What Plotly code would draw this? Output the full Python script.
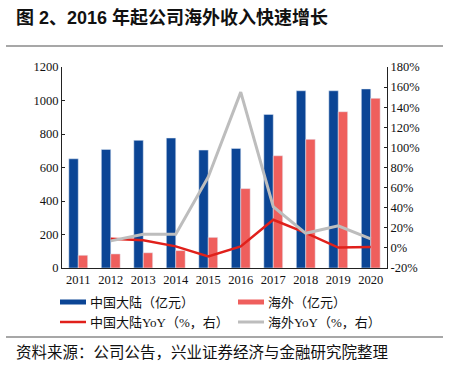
import plotly.graph_objects as go

years = ["2011", "2012", "2013", "2014", "2015", "2016", "2017", "2018", "2019", "2020"]
mainland = [652, 708, 762, 776, 704, 714, 917, 1058, 1058, 1069]
overseas = [76, 84, 91, 104, 183, 474, 670, 768, 933, 1013]
mainland_yoy = [None, 9, 7.6, 1.5, -8.6, 1.4, 28, 15, 0.3, 1]
overseas_yoy = [None, 7, 13.5, 13.5, 70.6, 155, 41, 14.5, 22, 9]

left_ticks = [0, 200, 400, 600, 800, 1000, 1200]
right_ticks = [-20, 0, 20, 40, 60, 80, 100, 120, 140, 160, 180]

names = ["中国大陆（亿元）", "海外（亿元）", "中国大陆YoY（%，右）", "海外YoY（%，右）"]
C_BLUE = "#0B4595"
C_SALMON = "#EF5F5D"
C_RED = "#E0201B"
C_GRAY = "#BDBDBD"

W, H = 474, 366
ML, MR, MT, MB = 62, 87, 67, 98

fig = go.Figure()
fig.add_trace(go.Bar(x=years, y=mainland, name=names[0], marker_color=C_BLUE, showlegend=False))
fig.add_trace(go.Bar(x=years, y=overseas, name=names[1], marker_color=C_SALMON, showlegend=False))
fig.add_trace(go.Scatter(x=years, y=mainland_yoy, name=names[2], mode="lines", yaxis="y2",
                         line=dict(color=C_RED, width=2.5), showlegend=False))
fig.add_trace(go.Scatter(x=years, y=overseas_yoy, name=names[3], mode="lines", yaxis="y2",
                         line=dict(color=C_GRAY, width=3), showlegend=False))

tickfont = dict(family="Liberation Serif, Times New Roman, serif", size=12.5, color="#111")

fig.update_layout(
    width=W, height=H,
    margin=dict(l=ML, r=MR, t=MT, b=MB),
    paper_bgcolor="white", plot_bgcolor="white",
    barmode="group", bargap=0.42, bargroupgap=0,
    xaxis=dict(showline=True, linecolor="#222", linewidth=1, ticks="", tickfont=tickfont,
               showgrid=False, zeroline=False),
    yaxis=dict(range=[0, 1200], tickvals=left_ticks, showline=True, linecolor="#222", linewidth=1,
               ticks="inside", ticklen=3, tickcolor="#222", tickfont=tickfont, showgrid=False,
               zeroline=False),
    yaxis2=dict(range=[-20, 180], tickvals=right_ticks, ticktext=[f"{v}%" for v in right_ticks],
                overlaying="y", side="right", showline=True, linecolor="#222", linewidth=1,
                ticks="inside", ticklen=3, tickcolor="#222", tickfont=tickfont, showgrid=False,
                zeroline=False),
    showlegend=False,
)

def px_x(px):
    return (px - ML) / (W - ML - MR)

def px_y(py):
    return (H - MB - py) / (H - MT - MB)

shapes = []
annotations = []
cjk = "Noto Sans CJK SC, sans-serif"

# title
annotations.append(dict(text="<b>图 2、2016 年起公司海外收入快速增长</b>", xref="paper", yref="paper",
                        x=px_x(14), y=px_y(17), xanchor="left", yanchor="middle", showarrow=False,
                        font=dict(family="Liberation Sans, Noto Sans CJK SC, sans-serif", size=18, color="#111")))
# separator lines
for yy in (46, 337):
    shapes.append(dict(type="line", xref="paper", yref="paper", x0=px_x(6), x1=px_x(443),
                       y0=px_y(yy), y1=px_y(yy), line=dict(color="#8a8a8a", width=1.5)))
# source
annotations.append(dict(text="资料来源：公司公告，兴业证券经济与金融研究院整理", xref="paper", yref="paper",
                        x=px_x(14), y=px_y(351), xanchor="left", yanchor="middle", showarrow=False,
                        font=dict(family=cjk, size=15.5, color="#111")))

# legend
leg = [
    (60, 302, "bar", C_BLUE, names[0]),
    (238, 302, "bar", C_SALMON, names[1]),
    (60, 322, "line", C_RED, names[2]),
    (238, 322, "line", C_GRAY, names[3]),
]
for x0, yy, kind, col, label in leg:
    if kind == "bar":
        shapes.append(dict(type="rect", xref="paper", yref="paper", x0=px_x(x0), x1=px_x(x0 + 26),
                           y0=px_y(yy + 2.5), y1=px_y(yy - 2.5), fillcolor=col, line=dict(width=0)))
    else:
        shapes.append(dict(type="line", xref="paper", yref="paper", x0=px_x(x0), x1=px_x(x0 + 26),
                           y0=px_y(yy), y1=px_y(yy), line=dict(color=col, width=2.5 if col == C_RED else 3)))
    annotations.append(dict(text=label, xref="paper", yref="paper", x=px_x(x0 + 28), y=px_y(yy),
                            xanchor="left", yanchor="middle", showarrow=False,
                            font=dict(family="Liberation Serif, Noto Sans CJK SC, serif", size=13, color="#111")))

fig.update_layout(shapes=shapes, annotations=annotations)
fig.write_html("out.html", post_script="document.body.style.margin='0';",
               config={"displayModeBar": False})
